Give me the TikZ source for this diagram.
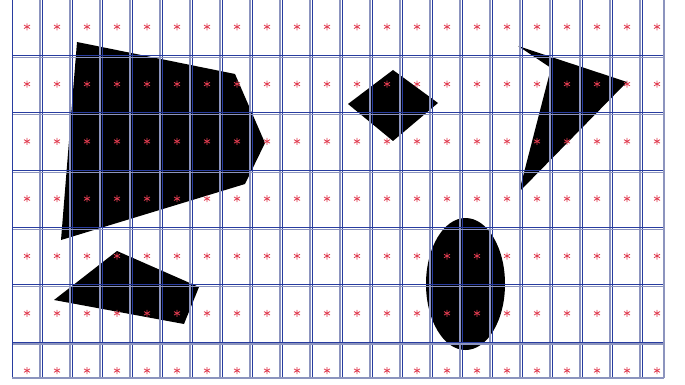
\documentclass[tikz,border=0pt]{standalone}
\definecolor{gridblue}{RGB}{40,60,160}
\definecolor{gridgray}{RGB}{140,148,190}
\definecolor{starred}{RGB}{225,60,80}
\tikzset{
  shapefill/.style={fill=black},
  glineA/.style={draw=gridblue,line width=0.8pt},
  glineB/.style={draw=gridgray,line width=1.2pt},
  redstar/.pic={\draw[starred,line width=0.8pt] (90:3.5)--(270:3.5) (30:3.5)--(210:3.5) (150:3.5)--(330:3.5);}
}
\begin{document}
\begin{tikzpicture}[x=1pt,y=-1pt]
\useasboundingbox (0,0) rectangle (685,385);
\fill[white] (0,0) rectangle (685,385);
% black shapes
\fill[shapefill] (77,42) -- (235,74) -- (265,143) -- (245,184) -- (61,240) -- cycle;
\fill[shapefill] (393,70) -- (438,103) -- (393,141) -- (348,104) -- cycle;
\fill[shapefill] (518,46) -- (627,82) -- (519,192) -- (551,68) -- cycle;
\fill[shapefill] (117,251) -- (199,287) -- (184,324) -- (54,300) -- cycle;
\fill[shapefill] (465.5,284) ellipse [x radius=39.5, y radius=66];
% grid
\foreach \i in {1,...,21} {
  \draw[glineB] (12+30*\i-2,0) -- (12+30*\i-2,378);
  \draw[glineA] (12+30*\i,0) -- (12+30*\i,378);
}
\foreach \y in {55.5,112.8,170.1,227.4,284.7,342} {
  \draw[glineB] (12,\y+2) -- (664,\y+2);
  \draw[glineA] (12,\y) -- (664,\y);
}
\draw[glineA] (12,0) -- (12,378);
\draw[glineB] (664,0) -- (664,378);
\draw[glineB] (12,378) -- (664,378);
% stars
\foreach \i in {0,...,21} {
  \foreach \j in {0,...,6} {
    \pic at (27+30*\i, 26.8+57.3*\j) {redstar};
  }
}
\end{tikzpicture}
\end{document}
